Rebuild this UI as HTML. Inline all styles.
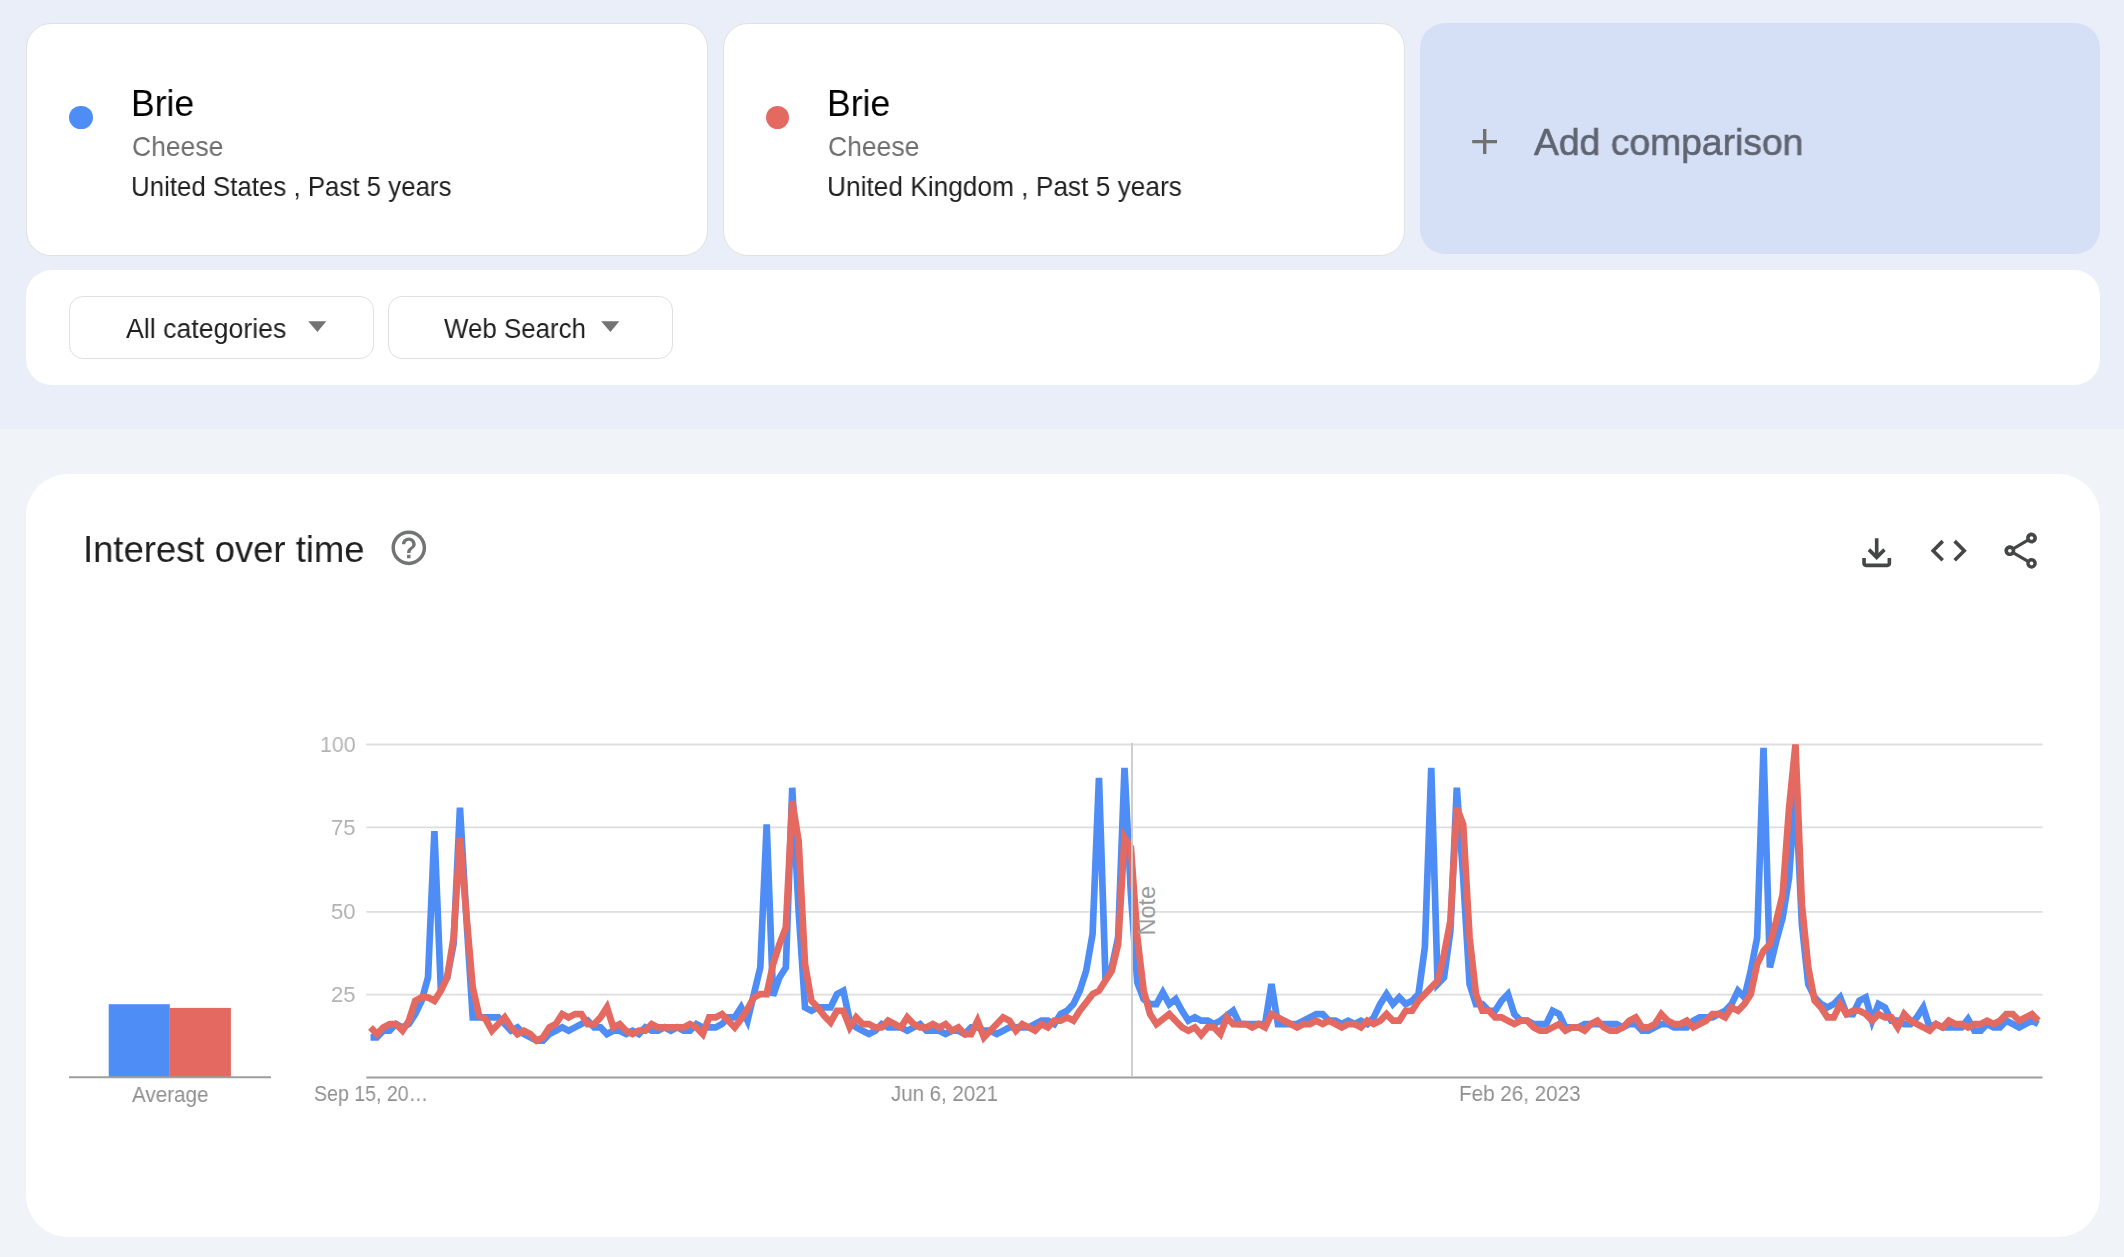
<!DOCTYPE html>
<html><head><meta charset="utf-8"><title>Google Trends - Brie</title>
<style>
*{margin:0;padding:0;box-sizing:border-box}
html,body{width:2124px;height:1257px;overflow:hidden}
body{position:relative;background:#f0f4f9;font-family:"Liberation Sans",sans-serif}
.band{position:absolute;left:0;top:0;width:2124px;height:429px;background:#eaeef8}
.card{position:absolute;background:#ffffff;border:1px solid #e0e0e0;border-radius:25px}
.dot{position:absolute;width:23.4px;height:23.4px;border-radius:50%}
.t{position:absolute;white-space:nowrap;will-change:transform}
.dd{position:absolute;top:296px;height:62.5px;border:1px solid #e0e0e0;border-radius:14px;background:#fff}
svg{position:absolute;overflow:visible}
</style></head><body>
<div class="band"></div>

<!-- search term cards -->
<div class="card" style="left:26px;top:23px;width:682px;height:233px"></div>
<div class="card" style="left:723px;top:23px;width:682px;height:233px"></div>
<div style="position:absolute;left:1420px;top:23px;width:680px;height:231px;background:#d5dff6;border-radius:25px"></div>
<div class="dot" style="left:69.3px;top:105.6px;background:#4e8df5"></div>
<div class="dot" style="left:765.8px;top:105.6px;background:#e46a61"></div>
<svg style="left:1470px;top:127px" width="30" height="30" viewBox="0 0 30 30"><path d="M14.7 2v25M2.2 14.6h24.8" stroke="#6f726e" stroke-width="3.4" fill="none"/></svg>

<!-- filter bar -->
<div style="position:absolute;left:26px;top:270px;width:2074px;height:114.5px;background:#fff;border-radius:26px"></div>
<div class="dd" style="left:69px;width:304.5px"></div>
<div class="dd" style="left:388px;width:284.5px"></div>
<svg style="left:300px;top:315px" width="40" height="25" viewBox="0 0 40 25"><path d="M8.2 6.3h18.1l-8.9 10.7z" fill="#737373"/></svg>
<svg style="left:593px;top:315px" width="40" height="25" viewBox="0 0 40 25"><path d="M8.2 6.3h18.1l-8.9 10.7z" fill="#737373"/></svg>

<!-- chart card -->
<div style="position:absolute;left:26px;top:474px;width:2074px;height:763px;background:#fff;border-radius:42px"></div>
<!-- help icon -->
<svg style="left:388.1px;top:526.6px" width="41.6" height="41.6" viewBox="0 0 24 24"><path fill="#727573" d="M11 18h2v-2h-2v2zm1-16C6.48 2 2 6.48 2 12s4.48 10 10 10 10-4.48 10-10S17.52 2 12 2zm0 18c-4.41 0-8-3.59-8-8s3.59-8 8-8 8 3.59 8 8-3.59 8-8 8zm0-14c-2.21 0-4 1.79-4 4h2c0-1.1.9-2 2-2s2 .9 2 2c0 2-3 1.75-3 5h2c0-2.25 3-2.5 3-5 0-2.21-1.79-4-4-4z"/></svg>
<!-- download -->
<svg style="left:1854.6px;top:530.8px" width="43.4" height="43.4" viewBox="0 0 24 24"><path fill="#444746" d="M18 15v3H6v-3H4v3c0 1.1.9 2 2 2h12c1.1 0 2-.9 2-2v-3h-2zm-1-4l-1.41-1.41L13 12.17V4h-2v8.17L8.41 9.59 7 11l5 5 5-5z"/></svg>
<!-- code -->
<svg style="left:1927.3px;top:529.1px" width="43.4" height="43.4" viewBox="0 0 24 24"><path fill="#444746" d="M9.4 16.6L4.8 12l4.6-4.6L8 6l-6 6 6 6 1.4-1.4zm5.2 0l4.6-4.6-4.6-4.6L16 6l6 6-6 6-1.4-1.4z"/></svg>
<!-- share -->
<svg style="left:1998.8px;top:528.7px" width="43.4" height="43.4" viewBox="0 0 24 24"><path fill="#444746" d="M18 16.08c-.76 0-1.44.3-1.96.77L8.910 12.7c.05-.23.09-.46.09-.7s-.04-.47-.09-.7l7.05-4.11c.54.5 1.25.81 2.04.81 1.66 0 3-1.34 3-3s-1.34-3-3-3-3 1.34-3 3c0 .24.04.47.09.7L8.04 9.81C7.5 9.310 6.79 9 6 9c-1.66 0-3 1.34-3 3s1.34 3 3 3c.79 0 1.5-.31 2.04-.81l7.12 4.16c-.05.21-.08.43-.08.65 0 1.61 1.31 2.92 2.92 2.92s2.92-1.31 2.92-2.920c0-1.61-1.31-2.92-2.92-2.92zM18 4c.55 0 1 .45 1 1s-.45 1-1 1-1-.45-1-1 .45-1 1-1zM6 13c-.55 0-1-.45-1-1s.45-1 1-1 1 .45 1 1-.45 1-1 1zm12 7.02c-.55 0-1-.45-1-1s.45-1 1-1 1 .45 1 1-.45 1-1 1z"/></svg>

<!-- chart svg (absolute page coords) -->
<svg style="left:0;top:0" width="2124" height="1257" viewBox="0 0 2124 1257">
  <!-- average bars -->
  <rect x="108.7" y="1004.2" width="61.1" height="73" fill="#4e8df5"/>
  <rect x="169.8" y="1007.9" width="61.1" height="69.3" fill="#e46a61"/>
  <line x1="69" y1="1077.2" x2="271" y2="1077.2" stroke="#9e9e9e" stroke-width="2"/>
  <!-- gridlines -->
  <g stroke="#dedede" stroke-width="1.8">
    <line x1="366.3" y1="744.5" x2="2042.5" y2="744.5"/>
    <line x1="366.3" y1="827.4" x2="2042.5" y2="827.4"/>
    <line x1="366.3" y1="911.9" x2="2042.5" y2="911.9"/>
    <line x1="366.3" y1="994.7" x2="2042.5" y2="994.7"/>
  </g>
  <polyline points="370.50,1037.36 376.89,1037.36 383.28,1030.71 389.67,1030.71 396.06,1024.05 402.45,1027.38 408.84,1024.05 415.23,1014.07 421.62,1000.76 428.01,977.46 434.40,831.03 440.79,987.44 447.18,977.46 453.57,944.18 459.96,807.73 466.35,917.56 472.74,1017.40 479.13,1017.40 485.52,1017.40 491.91,1017.40 498.30,1017.40 504.69,1024.05 511.08,1030.71 517.47,1027.38 523.86,1034.04 530.25,1037.36 536.64,1040.69 543.03,1040.69 549.42,1034.04 555.81,1030.71 562.20,1027.38 568.59,1030.71 574.98,1027.38 581.37,1024.05 587.76,1020.72 594.15,1027.38 600.54,1027.38 606.93,1034.04 613.32,1030.71 619.71,1030.71 626.10,1034.04 632.49,1030.71 638.88,1034.04 645.27,1027.38 651.66,1030.71 658.05,1030.71 664.44,1027.38 670.83,1030.71 677.22,1027.38 683.61,1030.71 690.00,1030.71 696.39,1024.05 702.78,1027.38 709.17,1027.38 715.56,1027.38 721.95,1024.05 728.34,1017.40 734.73,1017.40 741.12,1007.41 747.51,1020.72 753.90,994.10 760.29,967.48 766.68,824.37 773.07,995.76 779.46,977.46 785.85,967.48 792.24,787.76 798.63,910.90 805.02,1007.41 811.41,1010.74 817.80,1007.41 824.19,1007.41 830.58,1007.41 836.97,994.10 843.36,990.77 849.75,1020.72 856.14,1027.38 862.53,1030.71 868.92,1034.04 875.31,1030.71 881.70,1024.05 888.09,1027.38 894.48,1027.38 900.87,1027.38 907.26,1030.71 913.65,1027.38 920.04,1024.05 926.43,1030.71 932.82,1030.71 939.21,1030.71 945.60,1034.04 951.99,1030.71 958.38,1030.71 964.77,1034.04 971.16,1027.38 977.55,1027.38 983.94,1030.71 990.33,1030.71 996.72,1034.04 1003.11,1030.71 1009.50,1027.38 1015.89,1027.38 1022.28,1027.38 1028.67,1027.38 1035.06,1024.05 1041.45,1020.72 1047.84,1020.72 1054.23,1024.05 1060.62,1014.07 1067.01,1010.74 1073.40,1004.08 1079.79,990.77 1086.18,970.80 1092.57,934.20 1098.96,777.78 1105.35,974.13 1111.74,967.48 1118.13,937.52 1124.52,767.80 1130.91,894.26 1137.30,982.45 1143.69,999.09 1150.08,1004.08 1156.47,1004.08 1162.86,992.44 1169.25,1004.08 1175.64,999.09 1182.03,1010.74 1188.42,1020.72 1194.81,1017.40 1201.20,1020.72 1207.59,1020.72 1213.98,1024.05 1220.37,1020.72 1226.76,1015.73 1233.15,1010.74 1239.54,1024.05 1245.93,1024.05 1252.32,1024.05 1258.71,1024.05 1265.10,1024.05 1271.49,984.12 1277.88,1024.05 1284.27,1024.05 1290.66,1024.05 1297.05,1024.05 1303.44,1020.72 1309.83,1017.40 1316.22,1014.07 1322.61,1014.07 1329.00,1020.72 1335.39,1020.72 1341.78,1024.05 1348.17,1020.72 1354.56,1024.05 1360.95,1020.72 1367.34,1024.05 1373.73,1017.40 1380.12,1004.08 1386.51,994.10 1392.90,1004.08 1399.29,997.43 1405.68,1004.08 1412.07,1000.76 1418.46,994.10 1424.85,947.51 1431.24,767.80 1437.63,984.12 1444.02,977.46 1450.41,930.87 1456.80,787.76 1463.19,877.62 1469.58,984.12 1475.97,1004.08 1482.36,1004.08 1488.75,1010.74 1495.14,1010.74 1501.53,1000.76 1507.92,994.10 1514.31,1014.07 1520.70,1020.72 1527.09,1020.72 1533.48,1024.05 1539.87,1024.05 1546.26,1024.05 1552.65,1010.74 1559.04,1014.07 1565.43,1027.38 1571.82,1027.38 1578.21,1027.38 1584.60,1024.05 1590.99,1024.05 1597.38,1024.05 1603.77,1024.05 1610.16,1024.05 1616.55,1024.05 1622.94,1027.38 1629.33,1024.05 1635.72,1024.05 1642.11,1030.71 1648.50,1030.71 1654.89,1027.38 1661.28,1024.05 1667.67,1024.05 1674.06,1027.38 1680.45,1027.38 1686.84,1027.38 1693.23,1020.72 1699.62,1017.40 1706.01,1017.40 1712.40,1017.40 1718.79,1014.07 1725.18,1010.74 1731.57,1004.08 1737.96,990.77 1744.35,997.43 1750.74,970.80 1757.13,937.52 1763.52,747.83 1769.91,967.48 1776.30,940.85 1782.69,917.56 1789.08,877.62 1795.47,787.76 1801.86,924.21 1808.25,984.12 1814.64,997.43 1821.03,1004.08 1827.42,1007.41 1833.81,1004.08 1840.20,997.43 1846.59,1014.07 1852.98,1014.07 1859.37,1000.76 1865.76,997.43 1872.15,1020.72 1878.54,1004.08 1884.93,1007.41 1891.32,1020.72 1897.71,1020.72 1904.10,1024.05 1910.49,1024.05 1916.88,1017.40 1923.27,1007.41 1929.66,1027.38 1936.05,1024.05 1942.44,1027.38 1948.83,1027.38 1955.22,1027.38 1961.61,1027.38 1968.00,1019.06 1974.39,1030.71 1980.78,1030.71 1987.17,1024.05 1993.56,1027.38 1999.95,1027.38 2006.34,1020.72 2012.73,1024.05 2019.12,1027.38 2025.51,1024.05 2031.90,1020.72 2038.29,1024.05" fill="none" stroke="#4e8df5" stroke-width="6.7" stroke-linejoin="miter" stroke-miterlimit="4"/>
  <polyline points="370.50,1027.38 376.89,1034.04 383.28,1027.38 389.67,1024.05 396.06,1024.05 402.45,1030.71 408.84,1020.72 415.23,1000.76 421.62,997.43 428.01,997.43 434.40,1000.76 440.79,990.77 447.18,977.46 453.57,937.52 459.96,837.68 466.35,914.23 472.74,987.44 479.13,1015.73 485.52,1019.06 491.91,1030.71 498.30,1024.05 504.69,1017.40 511.08,1027.38 517.47,1034.04 523.86,1030.71 530.25,1034.04 536.64,1040.69 543.03,1037.36 549.42,1027.38 555.81,1024.05 562.20,1014.07 568.59,1017.40 574.98,1014.07 581.37,1014.07 587.76,1024.05 594.15,1024.05 600.54,1017.40 606.93,1007.41 613.32,1027.38 619.71,1024.05 626.10,1030.71 632.49,1034.04 638.88,1030.71 645.27,1030.71 651.66,1024.05 658.05,1027.38 664.44,1027.38 670.83,1027.38 677.22,1027.38 683.61,1027.38 690.00,1024.05 696.39,1027.38 702.78,1034.04 709.17,1017.40 715.56,1017.40 721.95,1014.07 728.34,1020.72 734.73,1027.38 741.12,1019.06 747.51,1009.08 753.90,997.43 760.29,994.10 766.68,994.10 773.07,964.15 779.46,944.18 785.85,927.54 792.24,801.08 798.63,841.01 805.02,964.15 811.41,1000.76 817.80,1007.41 824.19,1015.73 830.58,1022.39 836.97,1010.74 843.36,1010.74 849.75,1027.38 856.14,1017.40 862.53,1024.05 868.92,1024.05 875.31,1027.38 881.70,1027.38 888.09,1020.72 894.48,1024.05 900.87,1027.38 907.26,1017.40 913.65,1024.05 920.04,1027.38 926.43,1027.38 932.82,1024.05 939.21,1027.38 945.60,1024.05 951.99,1030.71 958.38,1027.38 964.77,1034.04 971.16,1034.04 977.55,1020.72 983.94,1037.36 990.33,1030.71 996.72,1024.05 1003.11,1017.40 1009.50,1020.72 1015.89,1030.71 1022.28,1024.05 1028.67,1027.38 1035.06,1030.71 1041.45,1024.05 1047.84,1027.38 1054.23,1020.72 1060.62,1020.72 1067.01,1017.40 1073.40,1020.72 1079.79,1010.74 1086.18,1002.42 1092.57,994.10 1098.96,990.77 1105.35,980.79 1111.74,970.80 1118.13,944.18 1124.52,837.68 1130.91,847.67 1137.30,937.52 1143.69,990.77 1150.08,1014.07 1156.47,1024.05 1162.86,1019.06 1169.25,1014.07 1175.64,1020.72 1182.03,1027.38 1188.42,1030.71 1194.81,1027.38 1201.20,1035.03 1207.59,1027.38 1213.98,1027.38 1220.37,1034.04 1226.76,1017.40 1233.15,1024.05 1239.54,1024.05 1245.93,1024.05 1252.32,1027.38 1258.71,1024.05 1265.10,1027.38 1271.49,1014.07 1277.88,1017.40 1284.27,1020.72 1290.66,1024.05 1297.05,1027.38 1303.44,1024.05 1309.83,1024.05 1316.22,1020.72 1322.61,1024.05 1329.00,1020.72 1335.39,1024.05 1341.78,1027.38 1348.17,1024.05 1354.56,1024.05 1360.95,1027.38 1367.34,1020.72 1373.73,1024.05 1380.12,1020.72 1386.51,1014.07 1392.90,1020.72 1399.29,1020.72 1405.68,1010.74 1412.07,1010.74 1418.46,1000.76 1424.85,994.10 1431.24,987.44 1437.63,980.79 1444.02,954.16 1450.41,920.88 1456.80,807.73 1463.19,824.37 1469.58,937.52 1475.97,994.10 1482.36,1010.74 1488.75,1010.74 1495.14,1017.40 1501.53,1017.40 1507.92,1020.72 1514.31,1024.05 1520.70,1020.72 1527.09,1020.72 1533.48,1027.38 1539.87,1030.71 1546.26,1030.71 1552.65,1027.38 1559.04,1024.05 1565.43,1030.71 1571.82,1027.38 1578.21,1027.38 1584.60,1030.71 1590.99,1024.05 1597.38,1020.72 1603.77,1027.38 1610.16,1030.71 1616.55,1030.71 1622.94,1027.38 1629.33,1020.72 1635.72,1017.40 1642.11,1027.38 1648.50,1027.38 1654.89,1024.05 1661.28,1014.07 1667.67,1020.72 1674.06,1024.05 1680.45,1024.05 1686.84,1020.72 1693.23,1027.38 1699.62,1024.05 1706.01,1020.72 1712.40,1014.07 1718.79,1014.07 1725.18,1017.40 1731.57,1007.41 1737.96,1010.74 1744.35,1004.08 1750.74,994.10 1757.13,964.15 1763.52,950.84 1769.91,944.18 1776.30,920.88 1782.69,894.26 1789.08,807.73 1795.47,744.50 1801.86,904.24 1808.25,967.48 1814.64,1000.76 1821.03,1007.41 1827.42,1017.40 1833.81,1017.40 1840.20,1004.08 1846.59,1014.07 1852.98,1010.74 1859.37,1010.74 1865.76,1014.07 1872.15,1020.72 1878.54,1014.07 1884.93,1017.40 1891.32,1017.40 1897.71,1027.38 1904.10,1014.07 1910.49,1020.72 1916.88,1024.05 1923.27,1027.38 1929.66,1030.71 1936.05,1024.05 1942.44,1027.38 1948.83,1020.72 1955.22,1024.05 1961.61,1024.05 1968.00,1027.38 1974.39,1024.05 1980.78,1024.05 1987.17,1020.72 1993.56,1024.05 1999.95,1020.72 2006.34,1014.07 2012.73,1014.07 2019.12,1020.72 2025.51,1017.40 2031.90,1014.07 2038.29,1020.72" fill="none" stroke="#e46a61" stroke-width="6.7" stroke-linejoin="miter" stroke-miterlimit="4"/>
  <line x1="366.3" y1="1077.5" x2="2042.5" y2="1077.5" stroke="#9e9e9e" stroke-width="2"/>
  <line x1="1132" y1="743" x2="1132" y2="1077" stroke="#cccccc" stroke-width="1.9"/>
  <text x="0" y="0" transform="translate(1155.2 935.6) rotate(-90)" font-family="Liberation Sans" font-size="23.6" fill="#9a9a9a">Note</text>
</svg>

<div class="t" style="left:131.48px;top:84.88px;font-size:37px;line-height:37px;color:#000000;transform:scaleX(0.9595);transform-origin:0 0;">Brie</div>
<div class="t" style="left:131.56px;top:132.90px;font-size:28px;line-height:28px;color:#6e6e6e;transform:scaleX(0.9463);transform-origin:0 0;">Cheese</div>
<div class="t" style="left:131.14px;top:173.29px;font-size:27.3px;line-height:27.3px;color:#1f1f1f;transform:scaleX(0.9472);transform-origin:0 0;">United States , Past 5 years</div>
<div class="t" style="left:826.58px;top:84.88px;font-size:37px;line-height:37px;color:#000000;transform:scaleX(0.9604);transform-origin:0 0;">Brie</div>
<div class="t" style="left:827.51px;top:132.90px;font-size:28px;line-height:28px;color:#6e6e6e;transform:scaleX(0.9463);transform-origin:0 0;">Cheese</div>
<div class="t" style="left:826.84px;top:173.29px;font-size:27.3px;line-height:27.3px;color:#1f1f1f;transform:scaleX(0.9625);transform-origin:0 0;">United Kingdom , Past 5 years</div>
<div class="t" style="left:1534.16px;top:123.56px;font-size:37.5px;line-height:37.5px;color:#5f6470;transform:scaleX(0.9942);transform-origin:0 0;-webkit-text-stroke:0.6px #5f6470;">Add comparison</div>
<div class="t" style="left:125.68px;top:315.94px;font-size:27px;line-height:27px;color:#1f1f1f;transform:scaleX(0.9897);transform-origin:0 0;">All categories</div>
<div class="t" style="left:443.96px;top:315.94px;font-size:27px;line-height:27px;color:#1f1f1f;transform:scaleX(0.9590);transform-origin:0 0;">Web Search</div>
<div class="t" style="left:82.96px;top:530.88px;font-size:37px;line-height:37px;color:#1f1f1f;transform:scaleX(0.9848);transform-origin:0 0;">Interest over time</div>
<div class="t" style="left:319.98px;top:734.08px;font-size:22px;line-height:22px;color:#b3b3b3;transform:scaleX(0.9703);transform-origin:0 0;">100</div>
<div class="t" style="left:331.13px;top:817.28px;font-size:22px;line-height:22px;color:#b3b3b3;transform:scaleX(1.0070);transform-origin:0 0;">75</div>
<div class="t" style="left:330.75px;top:900.88px;font-size:22px;line-height:22px;color:#b3b3b3;transform:scaleX(1.0074);transform-origin:0 0;">50</div>
<div class="t" style="left:331.21px;top:983.68px;font-size:22px;line-height:22px;color:#b3b3b3;transform:scaleX(1.0062);transform-origin:0 0;">25</div>
<div class="t" style="left:313.89px;top:1082.98px;font-size:22px;line-height:22px;color:#8f8f8f;transform:scaleX(0.8884);transform-origin:0 0;">Sep 15, 20…</div>
<div class="t" style="left:891.14px;top:1083.18px;font-size:22px;line-height:22px;color:#8f8f8f;transform:scaleX(0.9302);transform-origin:0 0;">Jun 6, 2021</div>
<div class="t" style="left:1459.41px;top:1082.98px;font-size:22px;line-height:22px;color:#8f8f8f;transform:scaleX(0.9374);transform-origin:0 0;">Feb 26, 2023</div>
<div class="t" style="left:131.92px;top:1084.18px;font-size:22px;line-height:22px;color:#8f8f8f;transform:scaleX(0.9388);transform-origin:0 0;">Average</div>
</body></html>
